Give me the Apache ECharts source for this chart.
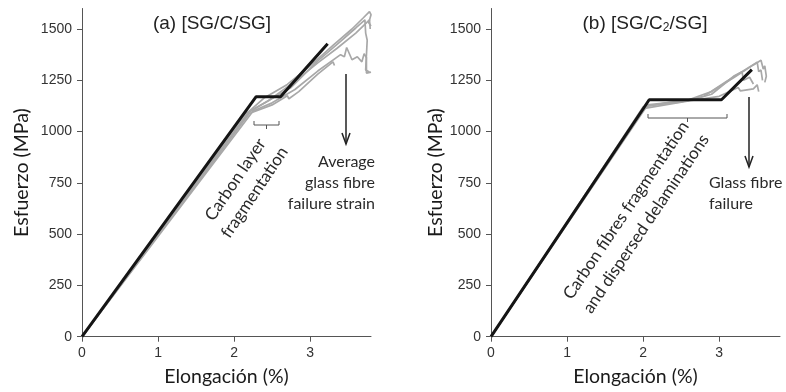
<!DOCTYPE html>
<html>
<head>
<meta charset="utf-8">
<script src="https://cdn.jsdelivr.net/npm/echarts@6/dist/echarts.min.js"></script>
<style>
  html, body { margin: 0; padding: 0; background: #fff; }
  #chart { width: 786px; height: 392px; }
</style>
</head>
<body>
<div id="chart"></div>
<script>
// tick values
const xTicks = [0, 1, 2, 3];
const yTicks = [0, 250, 500, 750, 1000, 1250, 1500];

// (a) [SG/C/SG] - averaged curve (black) and specimens (grey)
const avgA = [[0, 0], [2.29, 1170], [2.61, 1170], [3.23, 1428]];
const specA1 = [[0, 0], [2.2, 1100], [2.4, 1165], [2.7, 1230], [3.0, 1320], [3.3, 1420], [3.55, 1500], [3.7, 1555], [3.78, 1585], [3.8, 1570], [3.77, 1530], [3.8, 1515]];
const specA2 = [[0, 0], [2.2, 1095], [2.45, 1150], [2.75, 1215], [3.1, 1345], [3.4, 1440], [3.6, 1505], [3.72, 1545], [3.73, 1480], [3.75, 1445], [3.73, 1300], [3.78, 1290]];
const specA3 = [[0, 0], [2.25, 1100], [2.5, 1140], [2.8, 1205], [3.1, 1295], [3.4, 1375], [3.45, 1365], [3.48, 1410], [3.55, 1350], [3.62, 1365], [3.68, 1340], [3.71, 1380], [3.74, 1360], [3.74, 1285], [3.8, 1290]];
const specA4 = [[0, 0], [2.2, 1088], [2.5, 1130], [2.7, 1175], [2.72, 1160], [2.85, 1195], [3.1, 1280], [3.3, 1340], [3.32, 1322]];
const specA5 = [[0, 0], [2.15, 1088], [2.45, 1150], [2.8, 1245], [3.1, 1335], [3.35, 1405], [3.6, 1480], [3.78, 1545], [3.79, 1500]];

// (b) [SG/C2/SG]
const avgB = [[0, 0], [2.08, 1155], [3.03, 1155], [3.43, 1302]];
const specB1 = [[0, 0], [2.0, 1120], [2.3, 1140], [2.6, 1155], [2.9, 1195], [3.2, 1265], [3.45, 1325], [3.55, 1348], [3.58, 1305], [3.6, 1320], [3.62, 1270], [3.6, 1240]];
const specB2 = [[0, 0], [2.05, 1125], [2.5, 1145], [2.8, 1172], [3.1, 1245], [3.4, 1315], [3.5, 1338], [3.52, 1292], [3.55, 1300], [3.57, 1250]];
const specB3 = [[0, 0], [2.0, 1112], [2.6, 1150], [2.9, 1182], [3.2, 1272], [3.3, 1292], [3.32, 1250], [3.4, 1265], [3.45, 1232]];
const specB4 = [[0, 0], [2.05, 1130], [2.7, 1155], [3.0, 1172], [3.25, 1215], [3.28, 1198], [3.45, 1208], [3.5, 1228], [3.52, 1195]];

const chart = echarts.init(document.getElementById('chart'));

const tickFont = { fontFamily: 'Liberation Sans', fontSize: 14, color: '#333' };
const nameFont = { fontFamily: 'Lato', fontSize: 19.5, color: '#1a1a1a' };
const annFont = 'Lato';

function xAxis(gridIndex) {
  return {
    type: 'value', gridIndex: gridIndex, min: 0, max: 3.8,
    name: 'Elongación (%)', nameLocation: 'middle', nameGap: 30,
    nameTextStyle: nameFont,
    axisLine: { onZero: false, lineStyle: { color: '#555', width: 1 } },
    axisTick: { show: true, length: 5, lineStyle: { color: '#555' }, customValues: xTicks },
    axisLabel: { ...tickFont, margin: 9, customValues: xTicks },
    splitLine: { show: false }
  };
}
function yAxis(gridIndex, gap) {
  return {
    type: 'value', gridIndex: gridIndex, min: 0, max: 1600,
    name: 'Esfuerzo (MPa)', nameLocation: 'middle', nameGap: gap,
    nameTextStyle: nameFont,
    axisLine: { show: true, lineStyle: { color: '#555', width: 1 } },
    axisTick: { show: true, length: 5, lineStyle: { color: '#555' }, customValues: yTicks },
    axisLabel: { ...tickFont, margin: 10, customValues: yTicks, formatter: v => String(v) },
    splitLine: { show: false }
  };
}
function grey(data, xi) {
  return { type: 'line', xAxisIndex: xi, yAxisIndex: xi, data: data, showSymbol: false, silent: true,
    lineStyle: { color: '#a8a8a8', width: 1.7 }, z: 2 };
}
function black(data, xi) {
  return { type: 'line', xAxisIndex: xi, yAxisIndex: xi, data: data, showSymbol: false, silent: true,
    lineStyle: { color: '#151515', width: 3 }, z: 3 };
}

function arrow(x, y1, y2) {
  return {
    type: 'group', children: [
      { type: 'line', shape: { x1: x, y1: y1, x2: x, y2: y2 }, style: { stroke: '#222', lineWidth: 1.5 } },
      { type: 'polyline', shape: { points: [[x - 4, y2 - 11], [x, y2], [x + 4, y2 - 11]] }, style: { stroke: '#222', lineWidth: 1.5, fill: null } }
    ]
  };
}
function bracket(x1, x2, y) {
  const xm = (x1 + x2) / 2;
  return {
    type: 'group', children: [
      { type: 'polyline', shape: { points: [[x1, y - 4], [x1, y], [x2, y], [x2, y - 4]] }, style: { stroke: '#555', lineWidth: 1, fill: null } },
      { type: 'line', shape: { x1: xm, y1: y, x2: xm, y2: y + 4 }, style: { stroke: '#555', lineWidth: 1 } }
    ]
  };
}

const rot = 56 * Math.PI / 180;

const option = {
  animation: false,
  title: [
    { text: '(a) [SG/C/SG]', left: 207, top: 9, textAlign: 'center',
      textStyle: { fontFamily: 'Liberation Sans', fontSize: 19, fontWeight: 'normal', color: '#222' } },
    { text: '(b) [SG/C{sub|2}/SG]', left: 640, top: 9, textAlign: 'center',
      textStyle: { fontFamily: 'Liberation Sans', fontSize: 19, fontWeight: 'normal', color: '#222',
        rich: { sub: { fontFamily: 'Liberation Sans', fontSize: 12, color: '#222', verticalAlign: 'bottom', padding: [8, 0, 0, 0] } } } }
  ],
  grid: [
    { left: 82, top: 8.5, width: 289, bottom: 55.3 },
    { left: 491, top: 8.5, width: 289, bottom: 55.3 }
  ],
  xAxis: [xAxis(0), xAxis(1)],
  yAxis: [yAxis(0, 50), yAxis(1, 42)],
  series: [
    grey(specA1, 0), grey(specA2, 0), grey(specA3, 0), grey(specA4, 0), grey(specA5, 0),
    black(avgA, 0),
    grey(specB1, 1), grey(specB2, 1), grey(specB3, 1), grey(specB4, 1),
    black(avgB, 1)
  ],
  graphic: [
    bracket(254, 279, 125),
    arrow(346, 74, 144),
    { type: 'text', x: 245, y: 186, rotation: rot,
      style: { text: 'Carbon layer\nfragmentation', font: '17px ' + annFont, fill: '#2a2a2a',
        align: 'center', verticalAlign: 'middle', lineHeight: 23 } },
    { type: 'text', x: 375, y: 183,
      style: { text: 'Average\nglass fibre\nfailure strain', font: '16px ' + annFont, fill: '#2a2a2a',
        align: 'right', verticalAlign: 'middle', lineHeight: 21 } },
    bracket(648, 727, 118),
    arrow(749, 97, 167),
    { type: 'text', x: 636, y: 217, rotation: rot,
      style: { text: 'Carbon fibres fragmentation\nand dispersed delaminations', font: '17px ' + annFont, fill: '#2a2a2a',
        align: 'center', verticalAlign: 'middle', lineHeight: 24 } },
    { type: 'text', x: 709, y: 193,
      style: { text: 'Glass fibre\nfailure', font: '16px ' + annFont, fill: '#2a2a2a',
        align: 'left', verticalAlign: 'middle', lineHeight: 21 } }
  ]
};

chart.setOption(option);
</script>
</body>
</html>
